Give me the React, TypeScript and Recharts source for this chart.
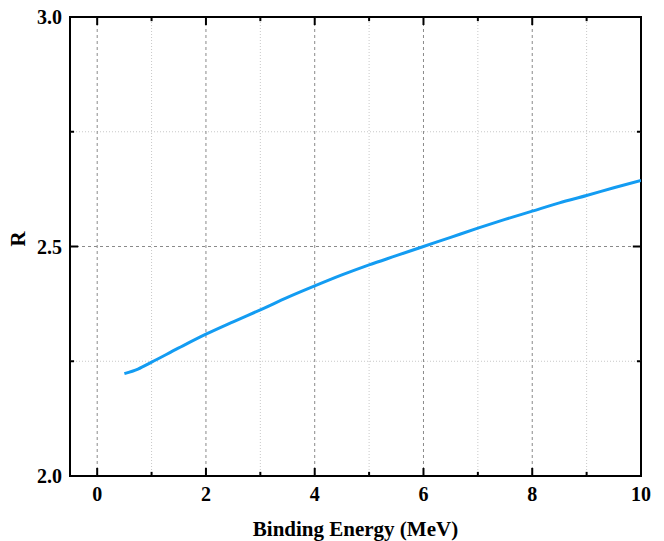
import {
  LineChart,
  Line,
  XAxis,
  YAxis,
  ReferenceLine,
  ReferenceArea,
} from 'recharts';

// binding energy (MeV) and R
const energy = [0.5, 0.75, 1, 1.5, 2, 2.5, 3, 3.5, 4, 4.5, 5, 5.5, 6, 6.5, 7, 7.5, 8, 8.5, 9, 9.5, 10];
const ratio = [
  2.223, 2.233, 2.248, 2.279, 2.309, 2.336, 2.362, 2.389, 2.414, 2.438, 2.46,
  2.48, 2.5, 2.52, 2.54, 2.559, 2.577, 2.595, 2.611, 2.628, 2.644,
];

const xMajor = [0, 2, 4, 6, 8, 10];
const xMinor = [1, 3, 5, 7, 9];
const yMajor = [2.0, 2.5, 3.0];
const yMinor = [2.25, 2.75];

const X_DOMAIN: [number, number] = [-0.5, 10];
const Y_DOMAIN: [number, number] = [2, 3];

const data = energy.map((e, i) => ({ e, r: ratio[i] }));

const FONT = '"Liberation Serif", "Times New Roman", serif';
const LINE_COLOR = '#139cf2';

// tick lengths in data units (about 8px major, 4px minor)
const X_MAJ = 0.0175;
const X_MIN = 0.009;
const Y_MAJ = 0.15;
const Y_MIN = 0.075;

const XTick = ({ x, y, payload }: any) => {
  if (!xMajor.includes(payload.value)) return null;
  return (
    <text x={x} y={y} dy={17} textAnchor="middle" fontFamily={FONT} fontWeight="bold" fontSize={20} fill="#000">
      {payload.value}
    </text>
  );
};

const YTick = ({ x, y, payload }: any) => {
  if (!yMajor.includes(payload.value)) return null;
  return (
    <text x={x} y={y} dy={7} textAnchor="end" fontFamily={FONT} fontWeight="bold" fontSize={20} fill="#000">
      {payload.value.toFixed(1)}
    </text>
  );
};

function App() {
  const tickStroke = { stroke: '#000', strokeWidth: 2 };
  return (
    <div style={{ position: 'absolute', left: 0, top: 0, background: '#fff' }}>
      <LineChart width={664} height={541} data={data} margin={{ top: 17, right: 23, left: 0, bottom: 0 }}>
        <XAxis
          dataKey="e"
          type="number"
          domain={X_DOMAIN}
          ticks={[...xMajor, ...xMinor].sort((a, b) => a - b)}
          height={65}
          axisLine={false}
          tickLine={false}
          tickSize={0}
          tickMargin={8}
          tick={<XTick />}
          allowDataOverflow
          label={{
            value: 'Binding Energy (MeV)',
            position: 'insideBottom',
            offset: 5,
            style: { fontFamily: FONT, fontWeight: 'bold', fontSize: 21, fill: '#000' },
          }}
        />
        <YAxis
          type="number"
          domain={Y_DOMAIN}
          ticks={[2, 2.25, 2.5, 2.75, 3]}
          width={70}
          axisLine={false}
          tickLine={false}
          tickSize={0}
          tickMargin={8}
          tick={<YTick />}
          allowDataOverflow
          label={{
            value: 'R',
            angle: -90,
            position: 'insideLeft',
            offset: 18,
            style: { fontFamily: FONT, fontWeight: 'bold', fontSize: 21, fill: '#000' },
          }}
        />

        {xMinor.map((v) => (
          <ReferenceLine key={'gx' + v} x={v} stroke="#c8c8c8" strokeDasharray="1 2" />
        ))}
        {yMinor.map((v) => (
          <ReferenceLine key={'gy' + v} y={v} stroke="#c8c8c8" strokeDasharray="1 2" />
        ))}
        {xMajor.filter((v) => v > X_DOMAIN[0] && v < X_DOMAIN[1]).map((v) => (
          <ReferenceLine key={'mx' + v} x={v} stroke="#8a8a8a" strokeDasharray="3 3" />
        ))}
        {yMajor.filter((v) => v > Y_DOMAIN[0] && v < Y_DOMAIN[1]).map((v) => (
          <ReferenceLine key={'my' + v} y={v} stroke="#8a8a8a" strokeDasharray="3 3" />
        ))}

        {/* inward ticks on all four sides */}
        {xMajor.concat(xMinor).map((v) => {
          const len = xMajor.includes(v) ? X_MAJ : X_MIN;
          return [
            <ReferenceLine key={'tb' + v} segment={[{ x: v, y: 2 }, { x: v, y: 2 + len }]} {...tickStroke} ifOverflow="visible" />,
            <ReferenceLine key={'tt' + v} segment={[{ x: v, y: 3 }, { x: v, y: 3 - len }]} {...tickStroke} ifOverflow="visible" />,
          ];
        })}
        {yMajor.concat(yMinor).map((v) => {
          const len = yMajor.includes(v) ? Y_MAJ : Y_MIN;
          return [
            <ReferenceLine key={'tl' + v} segment={[{ x: -0.5, y: v }, { x: -0.5 + len, y: v }]} {...tickStroke} ifOverflow="visible" />,
            <ReferenceLine key={'tr' + v} segment={[{ x: 10, y: v }, { x: 10 - len, y: v }]} {...tickStroke} ifOverflow="visible" />,
          ];
        })}

        <ReferenceArea x1={-0.5} x2={10} y1={2} y2={3} fill="none" stroke="#000" strokeWidth={2} ifOverflow="visible" />

        <Line
          type="monotone"
          dataKey="r"
          stroke={LINE_COLOR}
          strokeWidth={3}
          dot={false}
          isAnimationActive={false}
        />
      </LineChart>
    </div>
  );
}

export default App;
